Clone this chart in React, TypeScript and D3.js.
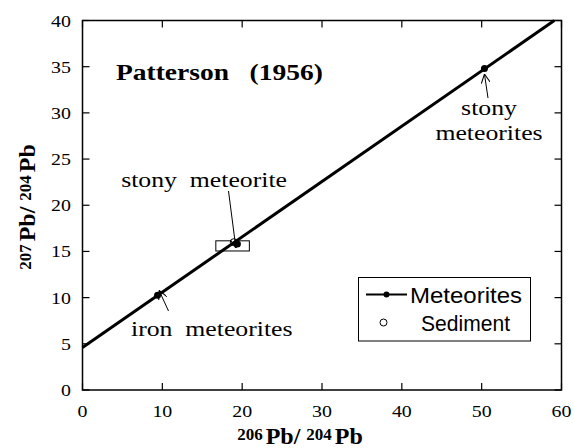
import React, { useRef, useEffect } from "react";
import * as d3 from "d3";

// meteorite points
const meteoriteX = [9.4, 19.4, 50.35];
const meteoriteY = [10.25, 15.8, 34.8];
const meteoriteLabels = ["iron  meteorites", "stony  meteorite", "stony", "meteorites"];

// isochron line (fit through the meteorites)
const isochronX = [0, 59.1];
const isochronY = [4.6, 40];

// sediment point and its error box
const sedimentX = [18.95];
const sedimentY = [16.0];
const sedimentBoxX = [16.7, 20.9];
const sedimentBoxY = [15.05, 16.15];

const xTicks = [0, 10, 20, 30, 40, 50, 60];
const yTicks = [0, 5, 10, 15, 20, 25, 30, 35, 40];

const serif = "Liberation Serif, DejaVu Serif, serif";
const sans = "Liberation Sans, Arial, sans-serif";
const stretch = 1.17; // the reference's serif text is a bit wide

const App = () => {
  const ref = useRef<SVGSVGElement>(null);

  useEffect(() => {
    const svg = d3.select(ref.current);
    svg.selectAll("*").remove();

    const left = 82.5, right = 561.5, top = 20.5, bottom = 390;
    const x = d3.scaleLinear().domain([0, 60]).range([left, right]);
    const y = d3.scaleLinear().domain([0, 40]).range([bottom, top]);

    // arrow head
    svg
      .append("defs")
      .append("marker")
      .attr("id", "arr")
      .attr("viewBox", "0 0 10 10")
      .attr("refX", 10)
      .attr("refY", 5)
      .attr("markerWidth", 9)
      .attr("markerHeight", 9)
      .attr("markerUnits", "userSpaceOnUse")
      .attr("orient", "auto")
      .append("path")
      .attr("d", "M0,0 L10,5 L0,10")
      .attr("fill", "none")
      .attr("stroke", "black")
      .attr("stroke-width", 1.2);

    // ticks, inside, on all four sides
    const tl = 7;
    const g = svg.append("g").attr("stroke", "black").attr("stroke-width", 1.2);
    xTicks.forEach((t) => {
      g.append("line").attr("x1", x(t)).attr("x2", x(t)).attr("y1", bottom).attr("y2", bottom - tl);
      g.append("line").attr("x1", x(t)).attr("x2", x(t)).attr("y1", top).attr("y2", top + tl);
    });
    yTicks.forEach((t) => {
      g.append("line").attr("x1", left).attr("x2", left + tl).attr("y1", y(t)).attr("y2", y(t));
      g.append("line").attr("x1", right).attr("x2", right - tl).attr("y1", y(t)).attr("y2", y(t));
    });

    svg
      .append("g")
      .selectAll("text")
      .data(xTicks)
      .join("text")
      .attr("transform", (d) => `translate(${x(d)},417) scale(${stretch},1)`)
      .attr("text-anchor", "middle")
      .style("font-family", serif)
      .style("font-size", "17px")
      .text((d) => d);

    svg
      .append("g")
      .selectAll("text")
      .data(yTicks)
      .join("text")
      .attr("transform", (d) => `translate(71,${y(d) + 6}) scale(${stretch},1)`)
      .attr("text-anchor", "end")
      .style("font-family", serif)
      .style("font-size", "17px")
      .text((d) => d);

    // sediment error box + point
    svg
      .append("rect")
      .attr("x", x(sedimentBoxX[0]))
      .attr("y", y(sedimentBoxY[1]))
      .attr("width", x(sedimentBoxX[1]) - x(sedimentBoxX[0]))
      .attr("height", y(sedimentBoxY[0]) - y(sedimentBoxY[1]))
      .attr("fill", "white")
      .attr("stroke", "black")
      .attr("stroke-width", 1);

    svg
      .selectAll(".sed")
      .data(sedimentX)
      .join("circle")
      .attr("class", "sed")
      .attr("cx", (d) => x(d))
      .attr("cy", (_, i) => y(sedimentY[i]))
      .attr("r", 3.5)
      .attr("fill", "white")
      .attr("stroke", "black")
      .attr("stroke-width", 1);

    // isochron
    const line = d3
      .line<number>()
      .x((d) => x(d))
      .y((_, i) => y(isochronY[i]));
    svg
      .append("path")
      .datum(isochronX)
      .attr("d", line)
      .attr("fill", "none")
      .attr("stroke", "black")
      .attr("stroke-width", 3);

    svg
      .selectAll(".met")
      .data(meteoriteX)
      .join("circle")
      .attr("class", "met")
      .attr("cx", (d) => x(d))
      .attr("cy", (_, i) => y(meteoriteY[i]))
      .attr("r", 3.5)
      .attr("fill", "black");

    // frame
    svg
      .append("rect")
      .attr("x", left)
      .attr("y", top)
      .attr("width", right - left)
      .attr("height", bottom - top)
      .attr("fill", "none")
      .attr("stroke", "black")
      .attr("stroke-width", 1.5);

    // arrows to the meteorite points
    const arrowFrom = [
      [168.5, 311],
      [228.5, 191],
      [488, 98],
    ];
    const arrowOff = [
      [1.5, 5],
      [-1.5, -4],
      [0, -5.5],
    ];
    meteoriteX.forEach((mx, i) => {
      svg
        .append("line")
        .attr("x1", arrowFrom[i][0])
        .attr("y1", arrowFrom[i][1])
        .attr("x2", x(mx) + arrowOff[i][0])
        .attr("y2", y(meteoriteY[i]) - arrowOff[i][1])
        .attr("stroke", "black")
        .attr("stroke-width", 1)
        .attr("marker-end", "url(#arr)");
    });

    const label = (tx: number, ty: number, s: string, anchor = "start") =>
      svg
        .append("text")
        .attr("transform", `translate(${tx},${ty}) scale(${stretch},1)`)
        .attr("text-anchor", anchor)
        .style("font-family", serif)
        .style("font-size", "22px")
        .style("white-space", "pre")
        .text(s);

    label(131, 336, meteoriteLabels[0]);
    label(287, 187, meteoriteLabels[1], "end");
    label(489, 115, meteoriteLabels[2], "middle");
    label(489, 140, meteoriteLabels[3], "middle");

    svg
      .append("text")
      .attr("transform", `translate(116,80) scale(${stretch},1)`)
      .style("font-family", serif)
      .style("font-weight", "bold")
      .style("font-size", "23.5px")
      .style("white-space", "pre")
      .text("Patterson   (1956)");

    // legend
    const lg = svg.append("g");
    lg.append("rect")
      .attr("x", 358.5)
      .attr("y", 277.5)
      .attr("width", 172)
      .attr("height", 63.5)
      .attr("fill", "white")
      .attr("stroke", "black")
      .attr("stroke-width", 1);
    lg.append("line")
      .attr("x1", 366)
      .attr("x2", 407)
      .attr("y1", 294.5)
      .attr("y2", 294.5)
      .attr("stroke", "black")
      .attr("stroke-width", 2);
    lg.append("circle").attr("cx", 386.5).attr("cy", 294.5).attr("r", 3).attr("fill", "black");
    lg.append("text")
      .attr("x", 410)
      .attr("y", 303)
      .attr("textLength", 112)
      .attr("lengthAdjust", "spacingAndGlyphs")
      .style("font-family", sans)
      .style("font-size", "22px")
      .text("Meteorites");
    lg.append("circle")
      .attr("cx", 383.5)
      .attr("cy", 322.5)
      .attr("r", 3.5)
      .attr("fill", "white")
      .attr("stroke", "black")
      .attr("stroke-width", 1);
    lg.append("text")
      .attr("x", 421)
      .attr("y", 331)
      .attr("textLength", 89)
      .attr("lengthAdjust", "spacingAndGlyphs")
      .style("font-family", sans)
      .style("font-size", "22px")
      .text("Sediment");

    // axis titles
    const title = (tr: string, sup: string) => {
      const t = svg
        .append("text")
        .attr("transform", tr)
        .attr("text-anchor", "middle")
        .style("font-family", serif)
        .style("font-weight", "bold")
        .style("font-size", "24px");
      t.append("tspan").style("font-size", "17px").attr("dy", -4).text(sup);
      t.append("tspan").attr("dy", 4).attr("dx", 3).text("Pb/ ");
      t.append("tspan").style("font-size", "17px").attr("dy", -4).text("204");
      t.append("tspan").attr("dy", 4).attr("dx", 3).text("Pb");
    };
    title("translate(300,444)", "206");
    title("translate(35,207) rotate(-90)", "207");
  }, []);

  return (
    <svg
      ref={ref}
      width={574}
      height={448}
      style={{ position: "absolute", left: 0, top: 0, background: "white" }}
    ></svg>
  );
};

export default App;
